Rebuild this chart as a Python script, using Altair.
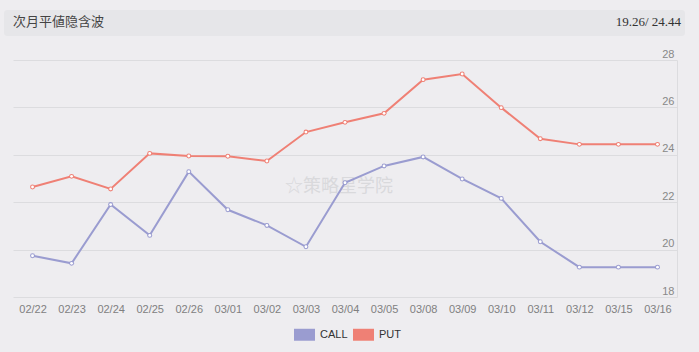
import altair as alt
import pandas as pd

dates = ["02/22", "02/23", "02/24", "02/25", "02/26", "03/01", "03/02", "03/03", "03/04",
         "03/05", "03/08", "03/09", "03/10", "03/11", "03/12", "03/15", "03/16"]
call_vals = [19.74, 19.42, 21.90, 20.60, 23.29, 21.68, 21.02, 20.12, 22.82,
             23.53, 23.91, 22.98, 22.16, 20.33, 19.26, 19.26, 19.26]
put_vals = [22.64, 23.09, 22.56, 24.06, 23.95, 23.94, 23.74, 24.96, 25.37,
            25.75, 27.17, 27.41, 25.99, 24.68, 24.44, 24.44, 24.44]
series_names = ["CALL", "PUT"]
series_colors = ["#9a9cd0", "#ef8075"]
y_ticks = [18, 20, 22, 24, 26, 28]
title_left = "次月平値隐含波"
title_right = "19.26/ 24.44"
watermark = "☆策略星学院"

rows = []
for d, c, p in zip(dates, call_vals, put_vals):
    rows.append({"date": d, "series": "CALL", "value": c})
    rows.append({"date": d, "series": "PUT", "value": p})
df = pd.DataFrame(rows)

W, H = 664, 237

x_enc = alt.X("date:N", sort=dates, scale=alt.Scale(type="point", padding=0.5),
              axis=alt.Axis(title=None, labelAngle=0, domain=False, ticks=False, grid=False,
                            labelColor="#808080", labelFontSize=11, labelPadding=6,
                            labelFont="Liberation Sans"))
y_enc = alt.Y("value:Q", scale=alt.Scale(domain=[18, 28], nice=False, zero=False),
              axis=alt.Axis(title=None, orient="right", values=y_ticks, grid=True,
                            gridColor="#dcdcdf", domain=True, domainColor="#dcdcdf",
                            ticks=False, labelAlign="right", labelBaseline="bottom",
                            labelPadding=-3, labelOffset=-1, labelColor="#888888",
                            labelFontSize=11, labelFont="Liberation Sans"))
color_scale = alt.Scale(domain=series_names, range=series_colors)

lines = alt.Chart(df).mark_line(strokeWidth=2).encode(
    x=x_enc, y=y_enc,
    color=alt.Color("series:N", scale=color_scale, legend=None),
)

points_outer = alt.Chart(df).mark_point(filled=True, size=24, opacity=1).encode(
    x=alt.X("date:N", sort=dates), y="value:Q",
    color=alt.Color("series:N", scale=color_scale,
                    legend=alt.Legend(title=None, orient="none", legendX=281, legendY=264,
                                      direction="horizontal",
                                      symbolType="M-1,-0.57L1,-0.57L1,0.57L-1,0.57Z",
                                      symbolSize=441, symbolStrokeWidth=0, symbolOpacity=1,
                                      labelFontSize=11, labelColor="#333333",
                                      labelFont="Liberation Sans", labelOffset=5,
                                      columnPadding=5, padding=0)),
)
points_inner = alt.Chart(df).mark_point(filled=True, size=8, opacity=1, color="white").encode(
    x=alt.X("date:N", sort=dates), y="value:Q",
)

header_df = pd.DataFrame({"left": [title_left], "right": [title_right], "wm": [watermark]})

band = alt.Chart(header_df).mark_rect(color="#e6e6e9", cornerRadius=3).encode(
    x=alt.value(-9), x2=alt.value(672), y=alt.value(-50), y2=alt.value(-24))
left_text = alt.Chart(header_df).mark_text(align="left", baseline="middle", fontSize=13,
                                           color="#444444", font="Noto Sans CJK SC").encode(
    x=alt.value(0), y=alt.value(-38), text="left:N")
right_text = alt.Chart(header_df).mark_text(align="right", baseline="middle", fontSize=13,
                                            color="#333333", font="Liberation Serif").encode(
    x=alt.value(668), y=alt.value(-38), text="right:N")
wm_text = alt.Chart(header_df).mark_text(align="center", baseline="middle", fontSize=18,
                                         color="#d9d9dc", font="Noto Sans CJK SC").encode(
    x=alt.value(326), y=alt.value(127), text="wm:N")

chart = alt.layer(band, left_text, right_text, wm_text, lines, points_outer, points_inner).resolve_legend(
    color="independent"
).properties(
    width=W, height=H,
    autosize=alt.AutoSizeParams(type="none"),
    padding={"left": 13, "top": 60, "right": 22, "bottom": 55},
    background="#eeedf0",
).configure_view(stroke=None)

chart.save("out.html", embed_options={"renderer": "svg", "actions": False})
